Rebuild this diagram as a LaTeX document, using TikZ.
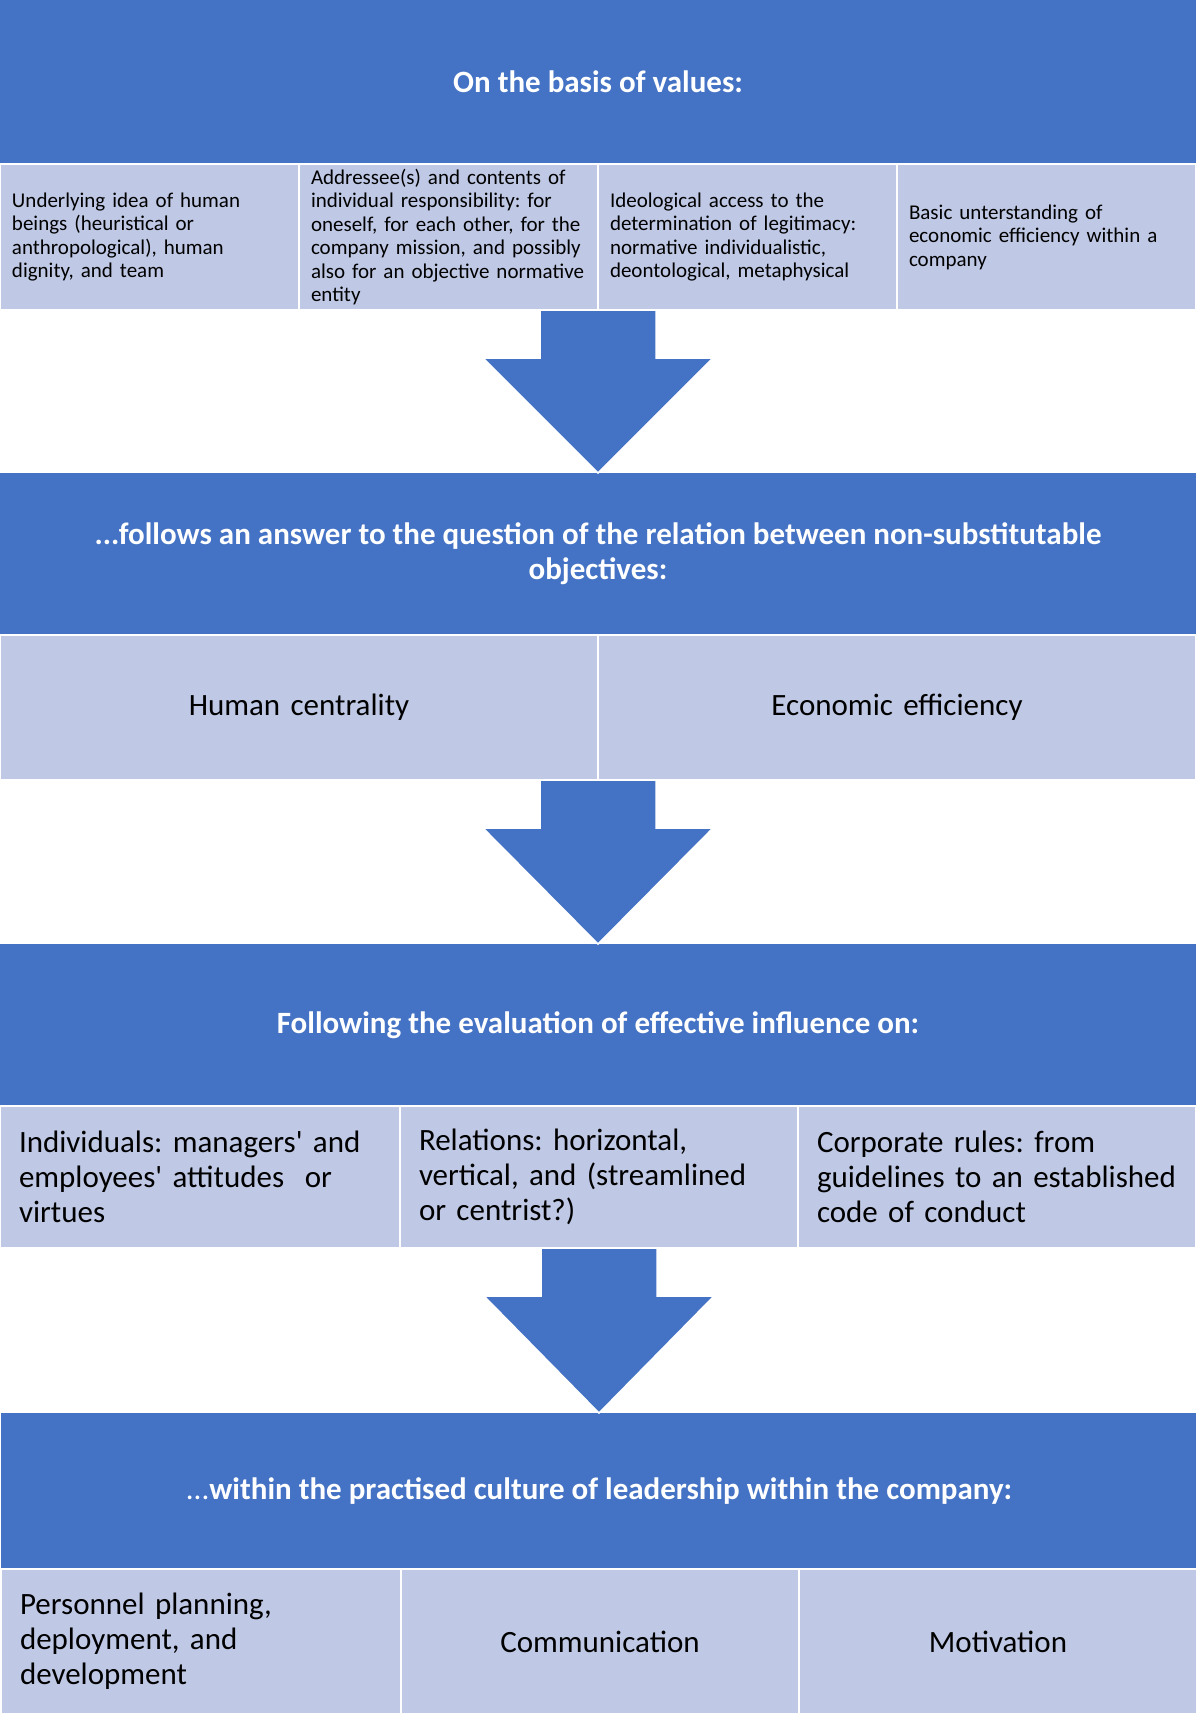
\documentclass[tikz,border=0pt]{standalone}
\usepackage{fontspec}
\setmainfont{Carlito}
\frenchspacing
\usetikzlibrary{positioning}
\usetikzlibrary{calc}
\definecolor{hdrblue}{RGB}{68,114,196}
\definecolor{cellblue}{RGB}{191,201,229}
\tikzstyle{header} = [fill = hdrblue, text = white, font = \bfseries\fontsize{31}{35}\selectfont, align = center, minimum width = 1196pt, inner sep = 0pt, outer sep = 0pt]
\tikzstyle{cell} = [fill = cellblue, draw = white, line width = 1.5pt, inner ysep = 0pt, outer sep = 0pt]
\tikzstyle{smallcell} = [cell, font = \fontsize{21}{23.4}\selectfont, minimum height = 146pt, inner xsep = 12pt, text width = 275pt, align = left]
\tikzstyle{bigcell} = [cell, font = \fontsize{31}{35}\selectfont, inner xsep = 19pt]
\tikzstyle{fatarrow} = [fill = hdrblue, draw = white, line width = 1.5pt]
% block arrow from the bottom of a row (#1) down to the next header (#2)
\newcommand{\flowarrow}[2]{%
  \path[fatarrow] ($(#2 |- #1) + (-58,0)$) -- ($(#2 |- #1) + (58,0)$) -- ($(#2 |- #1) + (58,48)$)
  -- ($(#2 |- #1) + (115,48)$) -- (#2) -- ($(#2 |- #1) + (-115,48)$) -- ($(#2 |- #1) + (-58,48)$) -- cycle;}

\begin{document}
\begin{tikzpicture}[x = 1pt, y = -1pt]
	\useasboundingbox (0,0) rectangle (1196,1718);

	% Values
	\node[header, minimum height = 164pt, anchor = north west] (values) at (0,0) {On the basis of values:};
	\node[smallcell, below right = 0pt of values.south west] (idea) {Underlying idea of human\\beings (heuristical or\\anthropological), human\\dignity, and team};
	\node[smallcell, right = 0pt of idea] (addressee) {Addressee(s) and contents of\\individual responsibility: for\\oneself, for each other, for the\\company mission, and possibly\\also for an objective normative\\entity};
	\node[smallcell, right = 0pt of addressee] (access) {Ideological access to the\\determination of legitimacy:\\normative individualistic,\\deontological, metaphysical};
	\node[smallcell, right = 0pt of access] (economy) {Basic unterstanding of\\economic efficiency within a\\company};

	% Objectives
	\node[header, minimum height = 162pt, below = 163pt of addressee.south east] (objectives) {...follows an answer to the question of the relation between non-substitutable\\objectives:};
	\node[bigcell, minimum height = 145pt, text width = 560pt, align = center, below right = 0pt of objectives.south west] (human) {Human centrality};
	\node[bigcell, minimum height = 145pt, text width = 560pt, align = center, right = 0pt of human] (efficiency) {Economic efficiency};

	% Influence
	\node[header, minimum height = 162pt, below = 164pt of human.south east] (influence) {Following the evaluation of effective influence on:};
	\node[bigcell, minimum height = 142pt, text width = 362pt, align = left, below right = 0pt of influence.south west] (individuals) {Individuals: managers\textquotesingle{} and\\employees\textquotesingle{} attitudes\ \ or\\virtues};
	\node[bigcell, minimum height = 142pt, text width = 360pt, align = left, right = 0pt of individuals] (relations) {Relations: horizontal,\\vertical, and (streamlined\\or centrist?)};
	\node[bigcell, minimum height = 142pt, text width = 360pt, align = left, right = 0pt of relations] (rules) {Corporate rules: from\\guidelines to an established\\code of conduct};

	% Leadership
	\node[header, minimum height = 156pt, below = 165pt of relations.south] (leadership) {{\mdseries ...}within the practised culture of leadership within the company:};
	\node[bigcell, minimum height = 145pt, text width = 362pt, align = left, below right = 0pt of leadership.south west] (personnel) {Personnel planning,\\deployment, and\\development};
	\node[bigcell, minimum height = 145pt, text width = 360pt, align = center, right = 0pt of personnel] (communication) {Communication};
	\node[bigcell, minimum height = 145pt, text width = 360pt, align = center, right = 0pt of communication] (motivation) {Motivation};

	% Arrows between the stages
	\flowarrow{addressee.south}{objectives.north}
	\flowarrow{human.south}{influence.north}
	\flowarrow{relations.south}{leadership.north}

\end{tikzpicture}
\end{document}
